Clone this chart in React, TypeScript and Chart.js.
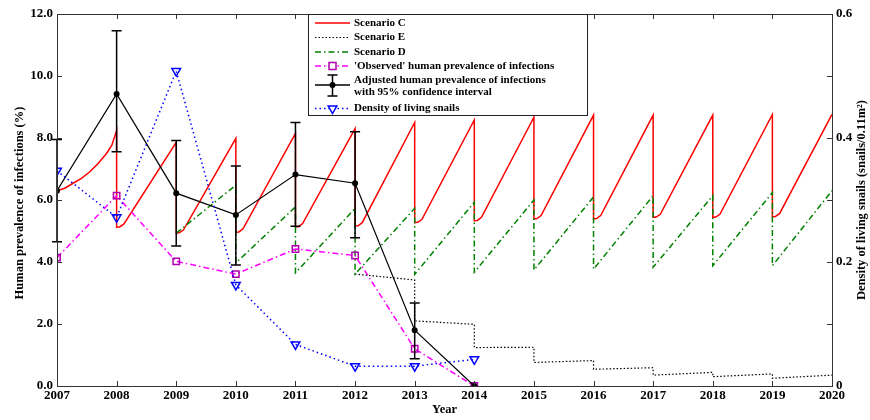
import React, { useEffect, useRef } from 'react';
import { Chart, registerables } from 'chart.js';

Chart.register(...registerables);

// ---------- data ----------
const years = [2007, 2008, 2009, 2010, 2011, 2012, 2013, 2014];
const adjusted = [6.3, 9.42, 6.22, 5.52, 6.82, 6.54, 1.8, 0];
const adjustedLower = [4.65, 7.56, 4.52, 3.9, 5.15, 4.78, 0.88, 0];
const adjustedUpper = [7.95, 11.46, 7.92, 7.1, 8.5, 8.2, 2.68, 0];
const observed = [4.14, 6.14, 4.02, 3.61, 4.42, 4.21, 1.2, 0];
const snails = [0.347, 0.272, 0.508, 0.163, 0.067, 0.032, 0.032, 0.043];

const scenarioCX = [2007, 2007.13, 2007.27, 2007.41, 2007.55, 2007.69, 2007.83, 2007.92, 2008, 2008, 2008.05, 2008.12, 2009, 2009, 2009.05, 2009.12, 2010, 2010, 2010.05, 2010.12, 2011, 2011, 2011.05, 2011.12, 2012, 2012, 2012.05, 2012.12, 2013, 2013, 2013.05, 2013.12, 2014, 2014, 2014.05, 2014.12, 2015, 2015, 2015.05, 2015.12, 2016, 2016, 2016.05, 2016.12, 2017, 2017, 2017.05, 2017.12, 2018, 2018, 2018.05, 2018.12, 2019, 2019, 2019.05, 2019.12, 2020];
const scenarioCY = [6.3, 6.38, 6.54, 6.7, 6.91, 7.18, 7.5, 7.77, 8.24, 5.12, 5.13, 5.22, 7.86, 4.93, 4.94, 5.03, 7.99, 4.96, 4.97, 5.07, 8.15, 5.13, 5.14, 5.24, 8.3, 5.16, 5.17, 5.27, 8.5, 5.27, 5.28, 5.37, 8.58, 5.33, 5.34, 5.44, 8.67, 5.39, 5.4, 5.5, 8.74, 5.39, 5.4, 5.5, 8.74, 5.44, 5.45, 5.54, 8.74, 5.44, 5.45, 5.54, 8.76, 5.46, 5.47, 5.56, 8.76];

const scenarioDX = [2009, 2010, 2010, 2011, 2011, 2012, 2012, 2013, 2013, 2014, 2014, 2015, 2015, 2016, 2016, 2017, 2017, 2018, 2018, 2019, 2019, 2020];
const scenarioDY = [4.93, 6.48, 3.97, 5.78, 3.65, 5.73, 3.61, 5.73, 3.6, 5.93, 3.67, 6.0, 3.74, 6.1, 3.77, 6.14, 3.83, 6.14, 3.88, 6.24, 3.88, 6.3];

const scenarioEX = [2012, 2013, 2013, 2014, 2014, 2015, 2015, 2016, 2016, 2017, 2017, 2018, 2018, 2019, 2019, 2020];
const scenarioEY = [3.61, 3.42, 2.1, 1.99, 1.24, 1.25, 0.76, 0.82, 0.54, 0.59, 0.35, 0.44, 0.3, 0.39, 0.25, 0.35];

const leftTitle = 'Human prevalence of infections (%)';
const rightTitle = 'Density of living snails (snails/0.11m\u00B2)';
const xTitle = 'Year';
const legendLabels = [
  'Scenario C',
  'Scenario E',
  'Scenario D',
  "'Observed' human prevalence of infections",
  'Adjusted human prevalence of infections',
  'with 95% confidence interval',
  'Density of living snails',
];

const FONT = '"Liberation Serif", "Times New Roman", serif';
const RED = '#ff0000';
const GREEN = '#008000';
const MAGENTA = '#ff00ff';
const SQUARE = '#b000b0';
const BLUE = '#0000ff';

const toXY = (xs: number[], ys: number[]) => xs.map((x, i) => ({ x, y: ys[i] }));

const decorPlugin = {
  id: 'decor',
  afterDatasetsDraw(chart: any) {
    const ctx = chart.ctx;
    const xs = chart.scales.x;
    const ys = chart.scales.y;
    ctx.save();
    ctx.strokeStyle = '#000';
    ctx.lineWidth = 1.5;
    years.forEach((yr, i) => {
      if (adjustedLower[i] === adjustedUpper[i]) return;
      const px = xs.getPixelForValue(yr);
      const lo = ys.getPixelForValue(adjustedLower[i]);
      const hi = ys.getPixelForValue(adjustedUpper[i]);
      ctx.beginPath();
      ctx.moveTo(px, lo);
      ctx.lineTo(px, hi);
      ctx.moveTo(px - 5, lo);
      ctx.lineTo(px + 5, lo);
      ctx.moveTo(px - 5, hi);
      ctx.lineTo(px + 5, hi);
      ctx.stroke();
    });
    ctx.restore();
  },
  afterDraw(chart: any) {
    const ctx = chart.ctx;
    const a = chart.chartArea;
    const xs = chart.scales.x;
    const ys = chart.scales.y;
    const y2 = chart.scales.y2;
    ctx.save();
    // frame
    ctx.strokeStyle = '#333';
    ctx.lineWidth = 1;
    ctx.setLineDash([]);
    ctx.strokeRect(Math.round(a.left) + 0.5, Math.round(a.top) + 0.5, Math.round(a.right - a.left), Math.round(a.bottom - a.top));
    // inward ticks
    const tl = 5;
    ctx.beginPath();
    xs.ticks.forEach((t: any) => {
      const px = Math.round(xs.getPixelForValue(t.value)) + 0.5;
      ctx.moveTo(px, a.bottom);
      ctx.lineTo(px, a.bottom - tl);
      ctx.moveTo(px, a.top);
      ctx.lineTo(px, a.top + tl);
    });
    ys.ticks.forEach((t: any) => {
      const py = Math.round(ys.getPixelForValue(t.value)) + 0.5;
      ctx.moveTo(a.left, py);
      ctx.lineTo(a.left + tl, py);
    });
    y2.ticks.forEach((t: any) => {
      const py = Math.round(y2.getPixelForValue(t.value)) + 0.5;
      ctx.moveTo(a.right, py);
      ctx.lineTo(a.right - tl, py);
    });
    ctx.stroke();

    // axis titles
    ctx.fillStyle = '#000';
    ctx.font = `bold 12.5px ${FONT}`;
    ctx.textAlign = 'center';
    ctx.textBaseline = 'middle';
    const cy = (a.top + a.bottom) / 2;
    ctx.save();
    ctx.translate(20, cy + 3);
    ctx.rotate(-Math.PI / 2);
    ctx.fillText(leftTitle, 0, 0);
    ctx.restore();
    ctx.save();
    ctx.translate(862, cy);
    ctx.rotate(-Math.PI / 2);
    ctx.fillText(rightTitle, 0, 0);
    ctx.restore();
    ctx.fillText(xTitle, (a.left + a.right) / 2, 410);

    // legend
    const L = { x: 308, y: 14, w: 279, h: 101 };
    ctx.fillStyle = '#fff';
    ctx.fillRect(L.x, L.y, L.w, L.h);
    ctx.strokeStyle = '#222';
    ctx.lineWidth = 1;
    ctx.strokeRect(L.x + 0.5, L.y + 0.5, L.w, L.h);
    const x0 = 315;
    const x1 = 350;
    const xm = (x0 + x1) / 2;
    const sample = (y: number, color: string, width: number, dash: number[]) => {
      ctx.beginPath();
      ctx.strokeStyle = color;
      ctx.lineWidth = width;
      ctx.setLineDash(dash);
      ctx.moveTo(x0, y);
      ctx.lineTo(x1, y);
      ctx.stroke();
      ctx.setLineDash([]);
    };
    const rows = [23, 37.5, 52, 66, 80.5, 92, 108.5];
    sample(rows[0], RED, 1.5, []);
    sample(rows[1], '#000', 1.2, [1.5, 2]);
    sample(rows[2], GREEN, 1.5, [6, 3, 1.5, 3]);
    sample(rows[3], MAGENTA, 1.5, [6, 3, 1.5, 3]);
    ctx.strokeStyle = SQUARE;
    ctx.lineWidth = 1.5;
    ctx.fillStyle = '#fff';
    ctx.fillRect(xm - 3.5, rows[3] - 3.5, 7, 7);
    ctx.strokeRect(xm - 3.5, rows[3] - 3.5, 7, 7);
    // errorbar sample
    const ey = 85;
    sample(ey, '#000', 1.5, []);
    ctx.strokeStyle = '#000';
    ctx.lineWidth = 1.5;
    ctx.beginPath();
    ctx.moveTo(xm, ey - 10);
    ctx.lineTo(xm, ey + 11);
    ctx.moveTo(xm - 5, ey - 10);
    ctx.lineTo(xm + 5, ey - 10);
    ctx.moveTo(xm - 5, ey + 11);
    ctx.lineTo(xm + 5, ey + 11);
    ctx.stroke();
    ctx.fillStyle = '#000';
    ctx.beginPath();
    ctx.arc(xm, ey, 3, 0, Math.PI * 2);
    ctx.fill();
    // triangle sample
    sample(rows[6], BLUE, 1.5, [1.5, 3]);
    ctx.fillStyle = '#fff';
    ctx.strokeStyle = BLUE;
    ctx.lineWidth = 1.5;
    ctx.beginPath();
    ctx.moveTo(xm - 4.3, rows[6] - 2.5);
    ctx.lineTo(xm + 4.3, rows[6] - 2.5);
    ctx.lineTo(xm, rows[6] + 5);
    ctx.closePath();
    ctx.fill();
    ctx.stroke();
    // texts
    ctx.fillStyle = '#000';
    ctx.font = `bold 11px ${FONT}`;
    ctx.textAlign = 'left';
    ctx.textBaseline = 'middle';
    legendLabels.forEach((t, i) => ctx.fillText(t, 354, rows[i]));
    ctx.restore();
  },
};

export default function App() {
  const ref = useRef<HTMLCanvasElement | null>(null);
  useEffect(() => {
    if (!ref.current) return;
    const tickFont = { family: FONT, size: 13, weight: 'bold' as const };
    const chart = new Chart(ref.current, {
      type: 'line',
      data: {
        datasets: [
          {
            label: 'Density of living snails',
            data: toXY(years, snails),
            yAxisID: 'y2',
            borderColor: BLUE,
            borderWidth: 1.5,
            borderDash: [1.5, 3],
            pointStyle: 'triangle',
            rotation: 180,
            pointRadius: 5,
            pointBorderColor: BLUE,
            pointBackgroundColor: 'rgba(255,255,255,0)',
            pointBorderWidth: 1.5,
            tension: 0,
            fill: false,
          },
          {
            label: 'Adjusted human prevalence of infections',
            data: toXY(years, adjusted),
            yAxisID: 'y',
            borderColor: '#000',
            borderWidth: 1.2,
            pointStyle: 'circle',
            pointRadius: 3,
            pointBorderColor: '#000',
            pointBackgroundColor: '#000',
            pointBorderWidth: 0,
            tension: 0,
            fill: false,
          },
          {
            label: "'Observed' human prevalence of infections",
            data: toXY(years, observed),
            yAxisID: 'y',
            borderColor: MAGENTA,
            borderWidth: 1.5,
            borderDash: [6, 3, 1.5, 3],
            pointStyle: 'rect',
            pointRadius: 4.5,
            pointBorderColor: SQUARE,
            pointBackgroundColor: 'rgba(255,255,255,0)',
            pointBorderWidth: 1.5,
            tension: 0,
            fill: false,
          },
          {
            label: 'Scenario D',
            data: toXY(scenarioDX, scenarioDY),
            yAxisID: 'y',
            borderColor: GREEN,
            borderWidth: 1.5,
            borderDash: [6, 3, 1.5, 3],
            pointRadius: 0,
            tension: 0,
            fill: false,
          },
          {
            label: 'Scenario E',
            data: toXY(scenarioEX, scenarioEY),
            yAxisID: 'y',
            borderColor: '#000',
            borderWidth: 1.2,
            borderDash: [1.5, 2],
            pointRadius: 0,
            tension: 0,
            fill: false,
          },
          {
            label: 'Scenario C',
            data: toXY(scenarioCX, scenarioCY),
            yAxisID: 'y',
            borderColor: RED,
            borderWidth: 1.5,
            pointRadius: 0,
            tension: 0,
            fill: false,
          },
        ],
      },
      options: {
        responsive: false,
        animation: false,
        devicePixelRatio: 1,
        layout: { padding: { top: 14, left: 0, right: 0, bottom: 0 } },
        plugins: { legend: { display: false }, tooltip: { enabled: false }, title: { display: false } },
        scales: {
          x: {
            type: 'linear',
            min: 2007,
            max: 2020,
            grid: { display: false, drawTicks: false },
            border: { display: false },
            ticks: {
              stepSize: 1,
              autoSkip: false,
              maxRotation: 0,
              padding: 2,
              color: '#000',
              font: tickFont,
              callback: (v: any) => String(v),
            },
            afterFit: (s: any) => { s.height = 34; },
          },
          y: {
            type: 'linear',
            position: 'left',
            min: 0,
            max: 12,
            grid: { display: false, drawTicks: false },
            border: { display: false },
            ticks: {
              stepSize: 2,
              padding: 4,
              color: '#000',
              font: tickFont,
              callback: (v: any) => Number(v).toFixed(1),
            },
            afterFit: (s: any) => { s.width = 57; },
          },
          y2: {
            type: 'linear',
            position: 'right',
            min: 0,
            max: 0.6,
            grid: { display: false, drawTicks: false },
            border: { display: false },
            ticks: {
              stepSize: 0.1,
              autoSkip: false,
              padding: 4,
              color: '#000',
              font: tickFont,
              callback: (v: any) => {
                const k = Math.round(Number(v) * 10);
                if (k % 2 !== 0) return '';
                return k === 0 ? '0' : (k / 10).toFixed(1);
              },
            },
            afterFit: (s: any) => { s.width = 38; },
          },
        },
      },
      plugins: [decorPlugin],
    } as any);
    return () => chart.destroy();
  }, []);
  return (
    <div style={{ position: 'fixed', left: 0, top: 0, width: 870, height: 420, background: '#fff' }}>
      <canvas ref={ref} width={870} height={420} style={{ width: 870, height: 420, display: 'block' }} />
    </div>
  );
}
